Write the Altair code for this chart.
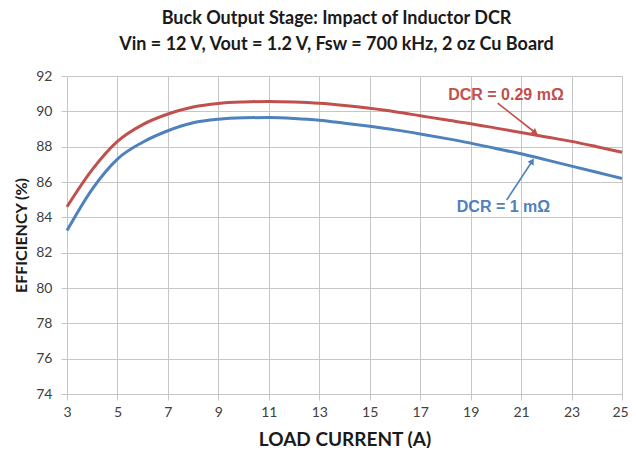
import altair as alt
import pandas as pd

load_current = [3, 4, 5, 6, 7, 8, 9, 10, 11, 12, 13, 14, 15, 16, 17, 18, 19, 20, 21, 22, 23, 24, 25]
eff_dcr_029 = [84.6, 86.7, 88.3, 89.25, 89.85, 90.25, 90.45, 90.53, 90.56, 90.53, 90.46, 90.33,
               90.17, 89.98, 89.75, 89.52, 89.3, 89.05, 88.8, 88.55, 88.3, 88.0, 87.68]
eff_dcr_1 = [83.25, 85.6, 87.3, 88.25, 88.9, 89.35, 89.55, 89.63, 89.65, 89.6, 89.5, 89.33,
             89.15, 88.95, 88.72, 88.47, 88.2, 87.9, 87.6, 87.25, 86.9, 86.55, 86.2]
series_names = ["DCR = 0.29 mΩ", "DCR = 1 mΩ"]
series_colors = ["#C0504D", "#4F81BD"]
x_ticks = [3, 5, 7, 9, 11, 13, 15, 17, 19, 21, 23, 25]
y_ticks = [74, 76, 78, 80, 82, 84, 86, 88, 90, 92]

# annotation positions (data coordinates)
label_x = [20.4, 20.3]
label_y = [90.9, 84.6]
arrow_x1 = [20.07, 20.43]
arrow_y1 = [90.47, 84.98]
arrow_x2 = [21.53, 21.42]
arrow_y2 = [88.83, 87.13]
arrow_angle = [128, 33]

rows = []
for xv, a, b in zip(load_current, eff_dcr_029, eff_dcr_1):
    rows.append({"x": xv, "y": a, "s": series_names[0]})
    rows.append({"x": xv, "y": b, "s": series_names[1]})
df = pd.DataFrame(rows)

ann = pd.DataFrame({
    "s": series_names, "lx": label_x, "ly": label_y,
    "x1": arrow_x1, "y1": arrow_y1, "x2": arrow_x2, "y2": arrow_y2, "ang": arrow_angle,
})

W, H = 555, 318
grid = "#C6C6C6"
xs = alt.Scale(domain=[3, 25], nice=False, zero=False)
ys = alt.Scale(domain=[74, 92], nice=False, zero=False)
cs = alt.Scale(domain=series_names, range=series_colors)

xaxis = alt.Axis(values=x_ticks, title="LOAD CURRENT  (A)", grid=True, gridColor=grid,
                 domainColor=grid, tickColor=grid, tickSize=6, labelPadding=5,
                 labelOverlap=False, labelFlush=False,
                 labelOffset={"condition": {"test": "datum.value >= 25", "value": -2}, "value": 0},
                 labelFont="Lato", labelFontSize=14, labelColor="#404040",
                 titleFont="Lato", titleFontSize=19, titleFontWeight="bold", titleColor="#1a1a1a",
                 titleX=W / 2, titleY=51, titleBaseline="alphabetic", titleAlign="center")
yaxis = alt.Axis(values=y_ticks, title="EFFICIENCY (%)", grid=True, gridColor=grid,
                 domainColor=grid, tickColor=grid, tickSize=6, labelPadding=9,
                 labelOverlap=False, labelFlush=False,
                 labelFont="Lato", labelFontSize=14, labelColor="#404040",
                 titleFont="Lato", titleFontSize=16, titleFontWeight="bold", titleColor="#1a1a1a",
                 titleX=-46, titleY=H / 2, titleBaseline="middle", titleAlign="center", titleAngle=270)

lines = alt.Chart(df).mark_line(strokeWidth=3, interpolate="monotone").encode(
    x=alt.X("x:Q", scale=xs, axis=xaxis),
    y=alt.Y("y:Q", scale=ys, axis=yaxis),
    color=alt.Color("s:N", scale=cs, legend=None),
)

texts = alt.Chart(ann).mark_text(font="Liberation Sans", fontSize=16, fontWeight="bold").encode(
    x=alt.X("lx:Q", scale=xs, axis=xaxis), y=alt.Y("ly:Q", scale=ys, axis=yaxis), text="s:N",
    color=alt.Color("s:N", scale=cs, legend=None),
)

arrows = alt.Chart(ann).mark_rule(strokeWidth=1.6).encode(
    x=alt.X("x1:Q", scale=xs, axis=xaxis), y=alt.Y("y1:Q", scale=ys, axis=yaxis),
    x2="x2:Q", y2="y2:Q",
    color=alt.Color("s:N", scale=cs, legend=None),
)

heads = alt.Chart(ann).mark_point(shape="triangle", filled=True, size=50, opacity=1).encode(
    x=alt.X("x2:Q", scale=xs, axis=xaxis), y=alt.Y("y2:Q", scale=ys, axis=yaxis),
    angle=alt.Angle("ang:Q", scale=None),
    color=alt.Color("s:N", scale=cs, legend=None),
)

chart = alt.layer(lines, arrows, heads, texts).properties(
    width=W, height=H,
    background="white",
    autosize=alt.AutoSizeParams(type="none"),
    padding={"left": 59, "top": 68, "right": 6, "bottom": 54},
    title=alt.TitleParams(
        text=["Buck Output Stage: Impact of Inductor DCR",
              "Vin = 12 V, Vout = 1.2 V, Fsw = 700 kHz, 2 oz Cu Board"],
        font="Lato", fontSize=18, fontWeight="bold", color="#1a1a1a",
        anchor="middle", dx=-8, offset=15, lineHeight=26,
    ),
).configure_view(stroke=None)

chart.save("out.html", embed_options={"renderer": "svg", "actions": False})
